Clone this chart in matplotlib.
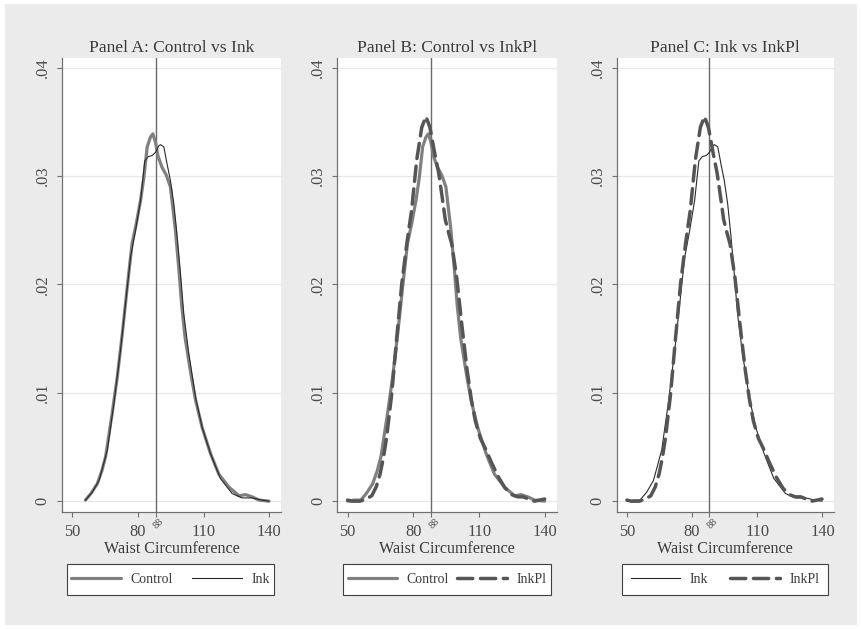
import matplotlib.pyplot as plt
from matplotlib.patches import Rectangle

plt.rcParams['font.family'] = 'serif'
plt.rcParams['font.serif'] = ['Liberation Serif', 'DejaVu Serif']
plt.rcParams['lines.scale_dashes'] = False

# Dichteschaetzungen
control_x = [50, 53, 56, 58.5, 61.4, 63.5, 65.2, 68.2, 70.5, 72.8, 75.1, 77.3, 79.2, 81.2,
             82.7, 84.2, 85.7, 86.8, 88, 89.2, 91, 92.9, 94.8, 97.1, 98.7, 99.9, 101.5,
             104.1, 106.3, 109.3, 113.1, 116.9, 121.5, 126.1, 129.1, 132.1, 135.2, 139.8]
control_y = [0.0000, 0.0001, 0.0001, 0.0007, 0.0016, 0.0028, 0.0041, 0.0081, 0.0114, 0.0154,
             0.0198, 0.0238, 0.0256, 0.0278, 0.0299, 0.0327, 0.0336, 0.0339, 0.0331, 0.0318,
             0.0308, 0.0301, 0.0290, 0.0250, 0.0213, 0.0182, 0.0151, 0.0118, 0.0093, 0.0068,
             0.0044, 0.0025, 0.0013, 0.0005, 0.0006, 0.0004, 0.0001, 0.0000]

ink_x = [50, 53, 56, 59, 62.2, 66, 69, 72, 74.3, 76.6, 78.9, 81.2, 83.1, 84.7, 86.5, 88,
         89.5, 90.3, 91.8, 93.3, 94.8, 96.4, 97.9, 99.4, 100.9, 103.2, 106.3, 109.3, 113.1,
         117.6, 123, 127.6, 132.1, 136.7, 139.8]
ink_y = [0.0000, 0.0001, 0.0001, 0.0008, 0.0019, 0.0047, 0.0090, 0.0139, 0.0182, 0.0225,
         0.0250, 0.0278, 0.0314, 0.0318, 0.0319, 0.0322, 0.0328, 0.0329, 0.0327, 0.0311,
         0.0296, 0.0274, 0.0244, 0.0210, 0.0173, 0.0136, 0.0096, 0.0068, 0.0044, 0.0021,
         0.0007, 0.0003, 0.0003, 0.0001, 0.0000]

inkpl_x = [50, 52, 55.7, 58.5, 61, 63, 64.8, 66.3, 67.8, 70.1, 72.4, 74.7, 77, 79.2, 81.5,
           83.8, 85.7, 87.5, 89.8, 91.5, 93, 94.5, 96, 97.5, 99.8, 102.1, 104.4, 106.3,
           108.2, 110.5, 112.7, 115.5, 118.8, 121.8, 124.8, 127.5, 130, 132.5, 135, 137.5,
           139.8]
inkpl_y = [0.0001, 0.0000, 0.0000, 0.0002, 0.0005, 0.0013, 0.0025, 0.0040, 0.0059, 0.0099,
           0.0151, 0.0201, 0.0238, 0.0269, 0.0315, 0.0345, 0.0355, 0.0345, 0.0320, 0.0303,
           0.0282, 0.0260, 0.0248, 0.0237, 0.0205, 0.0162, 0.0122, 0.0095, 0.0074, 0.0058,
           0.0049, 0.0036, 0.0022, 0.0012, 0.0006, 0.0004, 0.0004, 0.0002, 0.0000, 0.0001,
           0.0002]

titles = ['Panel A: Control vs Ink', 'Panel B: Control vs InkPl', 'Panel C: Ink vs InkPl']
panel_series = [['Control', 'Ink'], ['Control', 'InkPl'], ['Ink', 'InkPl']]
panel_start = [56, 50, 50]
x_ticks = [50, 80, 110, 140]
y_ticks = [0, 0.01, 0.02, 0.03, 0.04]
y_labels = ['0', '.01', '.02', '.03', '.04']
cutoff = 88

data = {'Control': (control_x, control_y), 'Ink': (ink_x, ink_y), 'InkPl': (inkpl_x, inkpl_y)}
styles = {
    'Control': dict(color='#808080', lw=2.3, solid_capstyle='round'),
    'Ink': dict(color='#2a2a2a', lw=0.8),
    'InkPl': dict(color='#555555', lw=2.5, dashes=(11, 5.5), dash_capstyle='round'),
}

W, H = 862, 629
fig = plt.figure(figsize=(W / 100, H / 100), dpi=100, facecolor='white')
fig.patches.append(Rectangle((5 / W, 4 / H), 852 / W, 621 / H, transform=fig.transFigure,
                             facecolor='#EBEBEB', edgecolor='none', zorder=-10))

ax_lefts = [62, 337.3, 616.7]
ax_widths = [219, 219.4, 217.3]
leg_boxes = [(67, 207), (343, 208), (622, 206)]
leg_spacing = [1.4, 0.6, 1.6]

for i in range(3):
    ax = fig.add_axes([ax_lefts[i] / W, 1 - 512 / H, ax_widths[i] / W, 454 / H])
    ax.set_facecolor('white')
    for name in panel_series[i]:
        xs, ys = data[name]
        pts = [(x, y) for x, y in zip(xs, ys) if x >= panel_start[i]]
        ax.plot([p[0] for p in pts], [p[1] for p in pts], label=name, zorder=3, **styles[name])
    ax.axvline(cutoff, color='#6a6a6a', lw=1.0, zorder=2)

    ax.set_xlim(45.3, 145.3)
    ax.set_ylim(-0.001, 0.0409)
    ax.set_xticks(x_ticks + [cutoff])
    ax.set_xticklabels([str(t) for t in x_ticks] + [''])
    ax.set_yticks(y_ticks)
    ax.set_yticklabels(y_labels, rotation=90, va='center')
    for y in y_ticks:
        ax.axhline(y, color='#E8E8E8', lw=0.9, zorder=1)

    for s in ['top', 'right']:
        ax.spines[s].set_visible(False)
    for s in ['left', 'bottom']:
        ax.spines[s].set_color('#707070')
        ax.spines[s].set_linewidth(0.9)
    ax.tick_params(direction='out', length=3.6, width=0.8, color='#707070',
                   labelcolor='#4a4a4a', labelsize=11.8)
    ax.tick_params(axis='x', pad=5)
    ax.tick_params(axis='y', pad=4.5)
    ax.annotate(str(cutoff), xy=(cutoff, 0), xycoords=('data', 'axes fraction'),
                xytext=(2.4, -8.3), textcoords='offset points', rotation=45,
                ha='center', va='center', fontsize=7.5, color='#4a4a4a')

    ax.set_title(titles[i], fontsize=12.6, color='#3a3a3a', pad=4)
    ax.set_xlabel('Waist Circumference', fontsize=11.6, color='#3a3a3a', labelpad=0.5)

    lx, lw = leg_boxes[i]
    fig.patches.append(Rectangle((lx / W, 1 - 595 / H), lw / W, 31 / H, transform=fig.transFigure,
                                 facecolor='white', edgecolor='#404040', lw=0.8, zorder=-5))
    leg = ax.legend(loc='center', bbox_to_anchor=((lx + lw / 2) / W, 1 - 579.5 / H),
                    bbox_transform=fig.transFigure, ncol=2, fontsize=9.9, frameon=False,
                    borderaxespad=0, borderpad=0, handlelength=3.6, handletextpad=0.7,
                    columnspacing=leg_spacing[i])
    for t in leg.get_texts():
        t.set_color('#3a3a3a')

fig.savefig('out.png', dpi=100, facecolor=fig.get_facecolor())
